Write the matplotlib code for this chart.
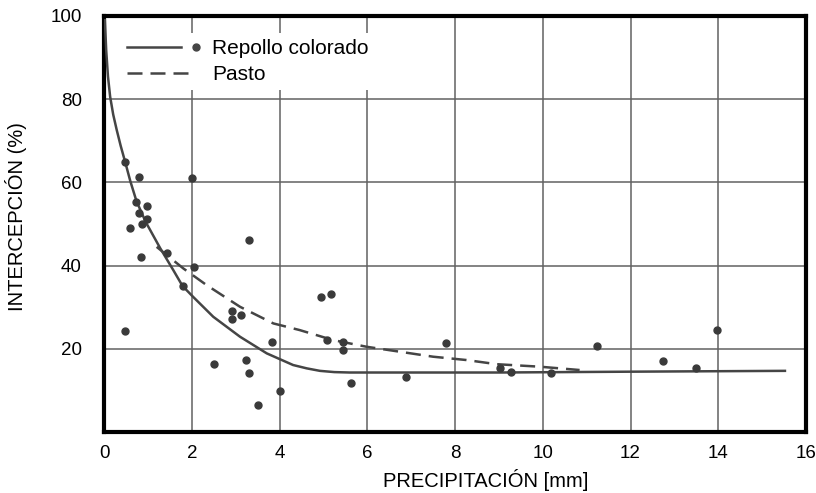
import matplotlib
matplotlib.use("Agg")
import matplotlib.pyplot as plt
from matplotlib.lines import Line2D

# scattered observations (Repollo colorado)
pts_x = [0.48, 0.80, 2.00, 0.74, 0.99, 0.80, 0.99, 0.86, 0.59, 0.84, 1.44, 2.05,
         1.79, 3.30, 2.92, 2.92, 3.13, 0.49, 3.84, 2.51, 3.24, 3.30, 3.52, 4.00,
         4.94, 5.18, 5.09, 5.45, 5.45, 5.62, 6.88, 7.79, 9.03, 9.28, 10.18, 11.24,
         12.75, 13.49, 13.98]
pts_y = [65.0, 61.2, 61.0, 55.2, 54.3, 52.6, 51.3, 50.0, 49.0, 42.1, 43.0, 39.7,
         35.1, 46.2, 29.2, 27.2, 28.1, 24.2, 21.7, 16.3, 17.2, 14.2, 6.4, 9.8,
         32.5, 33.2, 22.1, 21.6, 19.7, 11.7, 13.3, 21.5, 15.3, 14.4, 14.3, 20.6,
         17.1, 15.5, 24.4]

# fitted curve, Repollo colorado (solid)
rep_x = [0.02, 0.05, 0.09, 0.14, 0.21, 0.29, 0.38, 0.48, 0.60, 0.74, 0.95, 1.28,
         1.58, 1.79, 2.03, 2.49, 3.10, 3.71, 4.31, 4.62, 4.92, 5.25, 5.60, 6.50,
         9.00, 12.00, 15.52]
rep_y = [99.0, 91.8, 85.5, 80.6, 76.3, 72.6, 68.8, 65.0, 60.3, 55.5, 50.5, 44.2,
         38.9, 35.1, 32.5, 27.7, 22.9, 18.9, 16.1, 15.3, 14.7, 14.4, 14.3, 14.3,
         14.3, 14.5, 14.7]

# fitted curve, Pasto (dashed)
pas_x = [1.20, 1.81, 2.34, 3.10, 3.86, 4.46, 5.22, 5.98, 6.74, 7.50, 8.26, 8.95,
         9.93, 10.84]
pas_y = [44.5, 39.3, 35.3, 30.1, 26.1, 24.5, 22.1, 20.5, 19.3, 18.1, 17.3, 16.3,
         15.7, 14.9]

x_ticks = [0, 2, 4, 6, 8, 10, 12, 14, 16]
y_ticks = [20, 40, 60, 80, 100]

INK = "#454545"
GRID = "#626262"


class LineDotHandler:
    # line followed by a separate dot, as in the original key
    def legend_artist(self, legend, orig_handle, fontsize, handlebox):
        x0, y0 = handlebox.xdescent, handlebox.ydescent
        w, h = handlebox.width, handlebox.height
        ln = Line2D([x0, x0 + 0.78 * w], [y0 + h / 2, y0 + h / 2],
                    color=INK, lw=1.8)
        dot = Line2D([x0 + w], [y0 + h / 2], marker="o", ms=5,
                     color=INK, lw=0)
        handlebox.add_artist(ln)
        handlebox.add_artist(dot)
        return ln


def main():
    plt.rcParams["font.family"] = ["Liberation Sans", "DejaVu Sans"]
    fig = plt.figure(figsize=(8.16, 4.93), dpi=100)
    ax = fig.add_axes([104 / 816, 1 - 432 / 493, 702 / 816, 416 / 493])

    for v in x_ticks[1:-1]:
        ax.axvline(v, color=GRID, lw=1.1, zorder=1)
    for v in y_ticks[:-1]:
        ax.axhline(v, color=GRID, lw=1.1, zorder=1)

    rep, = ax.plot(rep_x, rep_y, color=INK, lw=1.8, solid_joinstyle="round",
                   zorder=3)
    pas, = ax.plot(pas_x, pas_y, color=INK, lw=1.8, dashes=(6, 3.2), zorder=3)
    ax.plot(pts_x, pts_y, "o", color="#3a3a3a", ms=5, zorder=4)

    ax.set_xlim(0, 16)
    ax.set_ylim(0, 100)
    ax.set_xticks(x_ticks)
    ax.set_yticks(y_ticks)
    ax.tick_params(length=0, labelsize=13.5)
    ax.tick_params(axis="x", pad=9)
    ax.tick_params(axis="y", pad=16)
    for s in ax.spines.values():
        s.set_linewidth(3)
        s.set_color("black")

    ax.set_xlabel("PRECIPITACIÓN [mm]", fontsize=14.5)
    ax.xaxis.set_label_coords(0.544, -0.088)
    ax.set_ylabel("INTERCEPCIÓN (%)", fontsize=14.5)
    ax.yaxis.set_label_coords(-0.11, 0.519)

    leg = ax.legend([rep, pas], ["Repollo colorado", "Pasto"],
                    handler_map={rep: LineDotHandler()},
                    loc="upper left", bbox_to_anchor=(0.009, 0.985),
                    fontsize=15, handlelength=3.3, handletextpad=0.8,
                    labelspacing=0.35, borderpad=0.3, fancybox=False,
                    framealpha=1, facecolor="white", edgecolor="none")
    leg.set_zorder(5)

    fig.savefig("out.png", dpi=100)


if __name__ == "__main__":
    main()
